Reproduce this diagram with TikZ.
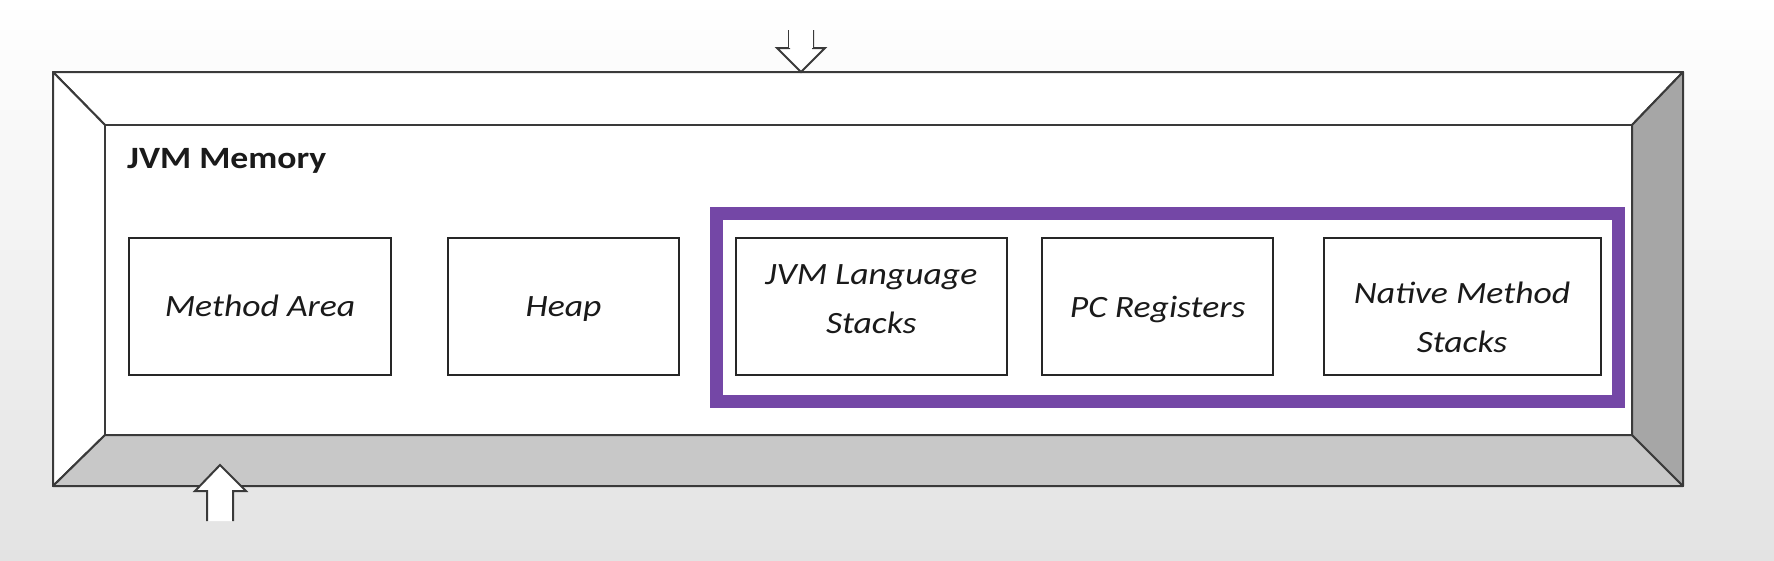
\documentclass[tikz,border=0pt]{standalone}
\usepackage{fontspec}
\setmainfont{Carlito}[FakeStretch=1.15]
\definecolor{frameline}{HTML}{3A3A3A}
\definecolor{bandbottom}{HTML}{C8C8C8}
\definecolor{bandright}{HTML}{A6A6A6}
\definecolor{jvmpurple}{HTML}{7447A6}
\definecolor{txt}{HTML}{1A1A1A}
\tikzset{
  memband/.style={draw=frameline, line width=2pt, line join=round},
  membox/.style={draw=black!85, line width=2pt, fill=white, rectangle, inner sep=0pt},
  boxtext/.style={text=txt, align=center, inner sep=0pt, font=\itshape\fontsize{31}{49}\selectfont},
  blockarrow/.style={draw=frameline, line width=2pt, fill=white, line join=miter},
}
\begin{document}
\begin{tikzpicture}[x=1pt,y=-1pt]
\useasboundingbox (0,0) rectangle (1774,560);
% background
\shade[top color=white, middle color=black!3, bottom color=black!11] (0,0) rectangle (1774,560);

% frame coordinates
\coordinate (o1) at (53,72);
\coordinate (o2) at (1683,72);
\coordinate (o3) at (1683,486);
\coordinate (o4) at (53,486);
\coordinate (i1) at (105,125);
\coordinate (i2) at (1632,125);
\coordinate (i3) at (1632,435);
\coordinate (i4) at (105,435);

% bevel bands
\filldraw[memband, fill=white] (o1) -- (o2) -- (i2) -- (i1) -- cycle;
\filldraw[memband, fill=white] (o1) -- (i1) -- (i4) -- (o4) -- cycle;
\filldraw[memband, fill=bandbottom] (o4) -- (i4) -- (i3) -- (o3) -- cycle;
\filldraw[memband, fill=bandright] (o2) -- (o3) -- (i3) -- (i2) -- cycle;
\filldraw[memband, fill=white] (i1) rectangle (i3);

% title
\node[anchor=base west, inner sep=0pt, text=txt, font=\bfseries\fontsize{31}{36}\selectfont] (title) at (127,168) {JVM Memory};

% purple group
\draw[jvmpurple, line width=13pt] (716.7,213.5) rectangle (1618.3,401.5);

% boxes
\node[membox, minimum width=262pt, minimum height=137pt] (ma) at (260,306) {};
\node[membox, minimum width=231pt, minimum height=137pt] (heap) at (563.5,306) {};
\node[membox, minimum width=270.5pt, minimum height=137pt] (jls) at (871.3,306) {};
\node[membox, minimum width=230.5pt, minimum height=137pt] (pc) at (1157.6,306) {};
\node[membox, minimum width=277pt, minimum height=137pt] (nms) at (1462,306) {};

% labels
\node[boxtext] (maT) at (ma.center) {Method Area};
\node[boxtext] (heapT) at ([yshift=-3pt]heap.center) {Heap};
\node[boxtext] (jlsT) at ([yshift=7pt]jls.center) {JVM Language\\Stacks};
\node[boxtext] (pcT) at ([yshift=-3pt]pc.center) {PC Registers};
\node[boxtext] (nmsT) at ([yshift=-11pt]nms.center) {Native Method\\Stacks};

% block arrows
\coordinate (topTip) at (801,72);
\coordinate (botTip) at (220,465);
\filldraw[blockarrow] (789,30) -- (789,48) -- (777,48) -- (topTip) -- (825,48) -- (813,48) -- (813,30);
\fill[white] (789,30) rectangle (813,48);
\filldraw[blockarrow] (207,521) -- (207,491) -- (195,491) -- (botTip) -- (246,491) -- (233,491) -- (233,521);
\end{tikzpicture}
\end{document}
